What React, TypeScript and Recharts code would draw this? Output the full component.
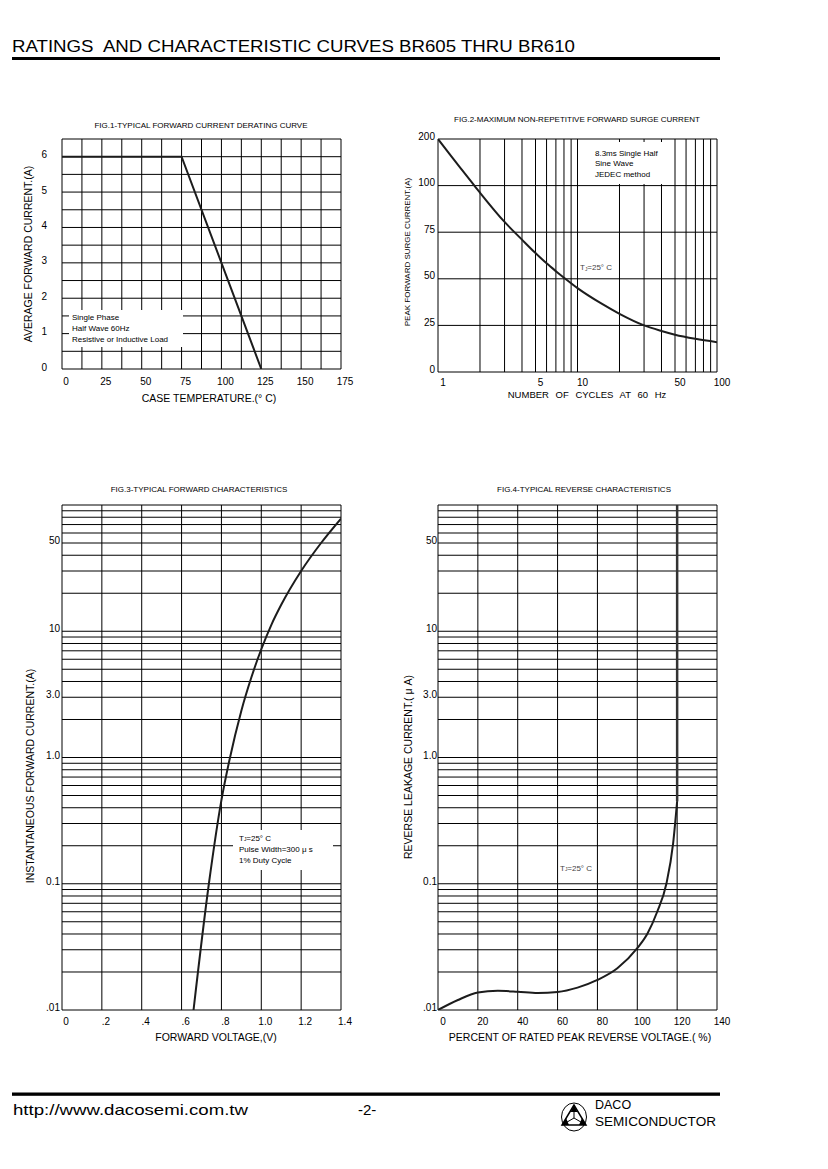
import { LineChart, Line, XAxis, YAxis, CartesianGrid } from 'recharts'
import type { ReactNode, CSSProperties } from 'react'

const FONT = '"Liberation Sans", Arial, Helvetica, sans-serif'

// FIG.1 forward current derating
const fig1Temp = [0, 75, 125]
const fig1Current = [6, 6, 0]
const fig1TempTicks = [0, 12.5, 25, 37.5, 50, 62.5, 75, 87.5, 100, 112.5, 125, 137.5, 150, 162.5, 175]
const fig1CurrentTicks = [0, 0.5, 1, 1.5, 2, 2.5, 3, 3.5, 4, 4.5, 5, 5.5, 6, 6.5]

// FIG.2 surge current (y axis: 0..100 linear, 100..200 squeezed into one step)
const fig2Cycles = [1, 1.2, 1.5, 1.8, 2, 3, 4, 5, 6, 7, 8, 10, 15, 20, 30, 40, 50, 70, 100]
const fig2Surge = [200, 169, 132, 102, 96.2, 80.5, 71, 63.8, 58.3, 54.1, 50.6, 45, 36.5, 31.2, 25, 22, 20, 17.8, 16]
const fig2CycleTicks = [1, 2, 3, 4, 5, 6, 7, 8, 9, 10, 20, 30, 40, 50, 60, 70, 80, 90, 100]
const fig2CycleLabels = [1, 5, 10, 50, 100]
const fig2SurgeTicks = [0, 25, 50, 75, 100, 200]

// FIG.3 forward characteristics
const fig3Voltage = [0.66, 0.737, 0.8, 0.84, 0.9, 0.95, 1.0, 1.05, 1.1, 1.2, 1.3, 1.4]
const fig3Current = [0.01, 0.1, 0.46, 0.95, 2.35, 4.3, 7.2, 11.2, 16.2, 30, 50, 78]
const fig3VoltTicks = [0, 0.2, 0.4, 0.6, 0.8, 1.0, 1.2, 1.4]
const fig3VoltLabels = ['0', '.2', '.4', '.6', '.8', '1.0', '1.2', '1.4']

// FIG.4 reverse characteristics
const fig4Percent = [0, 10, 20, 30, 40, 50, 60, 70, 80, 90, 100, 105, 110, 114.6, 118, 120]
const fig4Leakage = [0.01, 0.012, 0.01374, 0.01419, 0.01396, 0.01363, 0.01388, 0.01503, 0.0173, 0.0214, 0.0309, 0.04, 0.06, 0.1, 0.21, 0.45]
const fig4BreakPercent = [120, 120]
const fig4BreakLeakage = [0.45, 100]
const fig4PctTicks = [0, 20, 40, 60, 80, 100, 120, 140]

// shared log grid (0.01 .. 100)
const logTicks = [
  0.01, 0.02, 0.03, 0.04, 0.05, 0.06, 0.07, 0.08, 0.09,
  0.1, 0.2, 0.3, 0.4, 0.5, 0.6, 0.7, 0.8, 0.9,
  1, 2, 3, 4, 5, 6, 7, 8, 9,
  10, 20, 30, 40, 50, 60, 70, 80, 90, 100,
]
const logLabelValues = [50, 10, 3, 1, 0.1, 0.01]
const logLabelText = ['50', '10', '3.0', '1.0', '0.1', '.01']

const squeeze = (v: number) => (v <= 100 ? v : 100 + (v - 100) / 4)
const near = (a: number, b: number) => Math.abs(a - b) < 1e-9

const rows = (xs: number[], ys: number[], f = (v: number) => v) => xs.map((x, i) => ({ x, y: f(ys[i]) }))

const logLabel = (v: number) => {
  const i = logLabelValues.findIndex((l) => near(l, v))
  return i < 0 ? '' : logLabelText[i]
}

const PAD = { l: 40, t: 10, r: 24, b: 40 }
const INK = '#000'
const CURVE = '#1c1c1c'

function Frame({ x, y, w, h, children }: { x: number; y: number; w: number; h: number; children: ReactNode }) {
  return (
    <div style={{ position: 'absolute', left: x - PAD.l, top: y - PAD.t }}>
      <LineChart width={w + PAD.l + PAD.r} height={h + PAD.t + PAD.b} margin={{ top: PAD.t, right: PAD.r, bottom: 0, left: 0 }}>
        {children}
      </LineChart>
    </div>
  )
}

const tickStyle = (size: number, dx = 0, dy = 0) => ({ fontSize: size, fill: INK, fontFamily: FONT, dx, dy })

function Txt({ x, y, size, children, rotate = false, start = false, style }: {
  x: number; y: number; size: number; children: ReactNode; rotate?: boolean; start?: boolean; style?: CSSProperties
}) {
  const tf = `${start ? 'translate(0,-50%)' : 'translate(-50%,-50%)'}${rotate ? ' rotate(-90deg)' : ''}`
  return (
    <div style={{ position: 'absolute', left: x, top: y, transform: tf, fontFamily: FONT, fontSize: size, lineHeight: 1, whiteSpace: 'pre', color: INK, ...style }}>
      {children}
    </div>
  )
}

function Box({ x, y, w, h }: { x: number; y: number; w: number; h: number }) {
  return <div style={{ position: 'absolute', left: x, top: y, width: w, height: h, background: '#fff' }} />
}

const Tj = () => (
  <>
    T<span style={{ fontSize: '0.6em', position: 'relative', top: '0.2em' }}>J</span>=25° C
  </>
)

function Fig1() {
  return (
    <Frame x={62} y={139} w={279} h={230}>
      <CartesianGrid stroke={INK} strokeWidth={1} fill="none" />
      <XAxis type="number" dataKey="x" height={PAD.b} domain={[0, 175]} ticks={fig1TempTicks} interval={0}
        tickLine={false} axisLine={false} tickSize={0} tickMargin={9} tick={tickStyle(10, 4)}
        tickFormatter={(v: number) => (v % 25 === 0 ? String(v) : '')} allowDataOverflow />
      <YAxis type="number" width={PAD.l} domain={[0, 6.5]} ticks={fig1CurrentTicks} interval={0}
        tickLine={false} axisLine={false} tickSize={0} tickMargin={15} tick={tickStyle(10, 0, -2)}
        tickFormatter={(v: number) => (Number.isInteger(v) ? String(v) : '')} allowDataOverflow />
      <Line data={rows(fig1Temp, fig1Current)} dataKey="y" type="linear" stroke={CURVE} strokeWidth={2} dot={false} isAnimationActive={false} />
    </Frame>
  )
}

function Fig2() {
  return (
    <Frame x={438} y={139} w={279} h={233}>
      <CartesianGrid stroke={INK} strokeWidth={1} fill="none" />
      <XAxis type="number" dataKey="x" scale="log" height={PAD.b} domain={[1, 100]} ticks={fig2CycleTicks} interval={0}
        tickLine={false} axisLine={false} tickSize={0} tickMargin={7} tick={tickStyle(10, 5)}
        tickFormatter={(v: number) => (fig2CycleLabels.some((l) => near(l, v)) ? String(v) : '')} allowDataOverflow />
      <YAxis type="number" width={PAD.l} domain={[0, 125]} ticks={fig2SurgeTicks.map(squeeze)} interval={0}
        tickLine={false} axisLine={false} tickSize={0} tickMargin={3} tick={tickStyle(10, 0, -3)}
        tickFormatter={(v: number) => String(fig2SurgeTicks[fig2SurgeTicks.map(squeeze).findIndex((t) => near(t, v))])} allowDataOverflow />
      <Line data={rows(fig2Cycles, fig2Surge, squeeze)} dataKey="y" type="monotone" stroke={CURVE} strokeWidth={2} dot={false} isAnimationActive={false} />
    </Frame>
  )
}

function Fig3() {
  return (
    <Frame x={62} y={505} w={279} h={505}>
      <CartesianGrid stroke={INK} strokeWidth={1} fill="none" />
      <XAxis type="number" dataKey="x" height={PAD.b} domain={[0, 1.4]} ticks={fig3VoltTicks} interval={0}
        tickLine={false} axisLine={false} tickSize={0} tickMargin={8} tick={tickStyle(10, 4)}
        tickFormatter={(v: number) => fig3VoltLabels[fig3VoltTicks.findIndex((t) => near(t, v))] ?? ''} allowDataOverflow />
      <YAxis type="number" scale="log" width={PAD.l} domain={[0.01, 100]} ticks={logTicks} interval={0}
        tickLine={false} axisLine={false} tickSize={0} tickMargin={2} tick={tickStyle(10, 0, -2.5)}
        tickFormatter={logLabel} allowDataOverflow />
      <Line data={rows(fig3Voltage, fig3Current)} dataKey="y" type="monotone" stroke={CURVE} strokeWidth={2} dot={false} isAnimationActive={false} />
    </Frame>
  )
}

function Fig4() {
  return (
    <Frame x={438} y={505} w={279} h={505}>
      <CartesianGrid stroke={INK} strokeWidth={1} fill="none" />
      <XAxis type="number" dataKey="x" height={PAD.b} domain={[0, 140]} ticks={fig4PctTicks} interval={0}
        tickLine={false} axisLine={false} tickSize={0} tickMargin={8} tick={tickStyle(10, 5)} allowDataOverflow />
      <YAxis type="number" scale="log" width={PAD.l} domain={[0.01, 100]} ticks={logTicks} interval={0}
        tickLine={false} axisLine={false} tickSize={0} tickMargin={1} tick={tickStyle(10, 0, -2.5)}
        tickFormatter={logLabel} allowDataOverflow />
      <Line data={rows(fig4Percent, fig4Leakage)} dataKey="y" type="monotone" stroke={CURVE} strokeWidth={2} dot={false} isAnimationActive={false} />
      <Line data={rows(fig4BreakPercent, fig4BreakLeakage)} dataKey="y" type="linear" stroke="#333" strokeWidth={2.5} dot={false} isAnimationActive={false} />
    </Frame>
  )
}

function PageHeader() {
  return (
    <svg width={828} height={70} style={{ position: 'absolute', left: 0, top: 0 }}>
      <text x={12} y={52} fontFamily={FONT} fontSize={16.5} textLength={563} lengthAdjust="spacingAndGlyphs" style={{ whiteSpace: 'pre' }}>
        RATINGS  AND CHARACTERISTIC CURVES BR605 THRU BR610
      </text>
      <rect x={12} y={57} width={708} height={3} fill={INK} />
    </svg>
  )
}

function PageFooter() {
  return (
    <svg width={828} height={80} style={{ position: 'absolute', left: 0, top: 1085 }}>
      <rect x={12} y={7.5} width={708} height={3.3} fill={INK} />
      <text x={13} y={30} fontFamily={FONT} fontSize={15} textLength={235} lengthAdjust="spacingAndGlyphs">http://www.dacosemi.com.tw</text>
      <text x={358} y={30} fontFamily={FONT} fontSize={15}>-2-</text>
      <g stroke={INK} fill="none" strokeWidth={1}>
        <ellipse cx={574} cy={32} rx={12.5} ry={14} />
        <polygon points="574,20 562,40 586,40" strokeWidth={1.5} />
        <line x1={574} y1={33} x2={574} y2={20} />
        <line x1={574} y1={33} x2={562} y2={40} />
        <line x1={574} y1={33} x2={586} y2={40} />
      </g>
      <g fill={INK}>
        <polygon points="574,20 570.5,27 577.5,27" />
        <polygon points="562,40 566,33 569,40" />
        <polygon points="586,40 582,33 579,40" />
      </g>
      <text x={595} y={24} fontFamily={FONT} fontSize={12.5}>DACO</text>
      <text x={595} y={41} fontFamily={FONT} fontSize={12.5} textLength={121} lengthAdjust="spacingAndGlyphs">SEMICONDUCTOR</text>
    </svg>
  )
}

export default function App() {
  return (
    <div style={{ position: 'absolute', left: 0, top: 0, width: 828, height: 1169, background: '#fff', overflow: 'hidden' }}>
      <PageHeader />
      <Fig1 />
      <Fig2 />
      <Fig3 />
      <Fig4 />

      {/* FIG.1 texts */}
      <Txt x={201} y={126} size={8}>FIG.1-TYPICAL FORWARD CURRENT DERATING CURVE</Txt>
      <Txt x={28} y={254} size={10.5} rotate>AVERAGE FORWARD CURRENT.(A)</Txt>
      <Txt x={209} y={398} size={10.5}>CASE TEMPERATURE.(° C)</Txt>
      <Box x={69} y={310} w={114} h={37} />
      <Txt x={72} y={317.5} size={8} start>Single Phase</Txt>
      <Txt x={72} y={328.5} size={8} start>Half Wave 60Hz</Txt>
      <Txt x={72} y={339.5} size={8} start>Resistive or Inductive Load</Txt>

      {/* FIG.2 texts */}
      <Txt x={577} y={120} size={8}>FIG.2-MAXIMUM NON-REPETITIVE FORWARD SURGE CURRENT</Txt>
      <Txt x={407.5} y={252} size={8} rotate>PEAK FORWARD SURGE CURRENT.(A)</Txt>
      <Txt x={587} y={395} size={9.5} style={{ wordSpacing: 4 }}>NUMBER OF CYCLES AT 60 Hz</Txt>
      <Box x={590} y={142} w={82} h={42} />
      <Txt x={595} y={153.5} size={8} start>8.3ms Single Half</Txt>
      <Txt x={595} y={164.3} size={8} start>Sine Wave</Txt>
      <Txt x={595} y={174.8} size={8} start>JEDEC method</Txt>
      <Txt x={580} y={268} size={8} start style={{ color: '#444' }}><Tj /></Txt>

      {/* FIG.3 texts */}
      <Txt x={199} y={490} size={8}>FIG.3-TYPICAL FORWARD CHARACTERISTICS</Txt>
      <Txt x={30} y={776} size={10.5} rotate>INSTANTANEOUS FORWARD CURRENT.(A)</Txt>
      <Txt x={216} y={1037} size={10.5}>FORWARD VOLTAGE,(V)</Txt>
      <Box x={233} y={830} w={100} h={40} />
      <Txt x={239} y={838.5} size={8} start><Tj /></Txt>
      <Txt x={239} y={849.5} size={8} start>Pulse Width=300 μ s</Txt>
      <Txt x={239} y={860.7} size={8} start>1% Duty Cycle</Txt>

      {/* FIG.4 texts */}
      <Txt x={584} y={490} size={8}>FIG.4-TYPICAL REVERSE CHARACTERISTICS</Txt>
      <Txt x={407.5} y={767} size={10.5} rotate>REVERSE LEAKAGE CURRENT.( μ A)</Txt>
      <Txt x={580} y={1037} size={10.5}>PERCENT OF RATED PEAK REVERSE VOLTAGE.( %)</Txt>
      <Txt x={560} y={868.5} size={8} start style={{ color: '#444' }}><Tj /></Txt>

      <PageFooter />
    </div>
  )
}
